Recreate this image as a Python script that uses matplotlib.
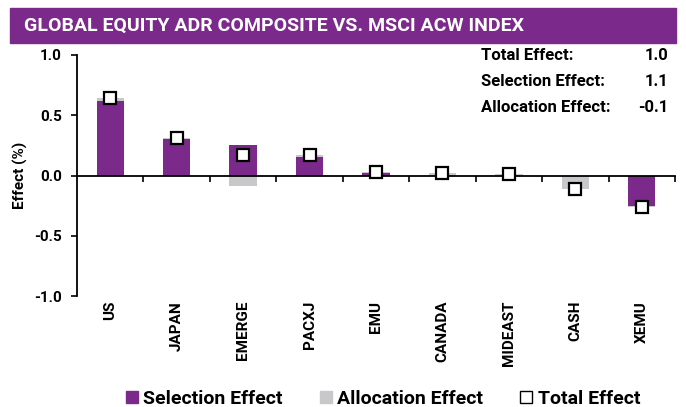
import numpy as np
import matplotlib
matplotlib.use("Agg")
import matplotlib.pyplot as plt
from matplotlib.patches import Rectangle
from matplotlib.lines import Line2D

plt.rcParams["font.family"] = ["Roboto", "DejaVu Sans"]

regions = ["US", "JAPAN", "EMERGE", "PACXJ", "EMU", "CANADA", "MIDEAST", "CASH", "XEMU"]
selection = [0.62, 0.30, 0.25, 0.15, 0.02, 0.00, 0.00, 0.00, -0.25]
allocation = [0.02, 0.01, -0.09, 0.02, 0.01, 0.02, 0.01, -0.11, -0.01]
total = [0.64, 0.31, 0.17, 0.17, 0.03, 0.02, 0.01, -0.115, -0.26]

stat_labels = ["Total Effect:", "Selection Effect:", "Allocation Effect:"]
stat_values = ["1.0", "1.1", "-0.1"]

purple = "#7B2A8C"
gray = "#C8C8CA"

fig = plt.figure(figsize=(6.86, 4.07), dpi=100)

# title band
fig.patches.append(Rectangle((10 / 686, 1 - 43 / 407), 666 / 686, 35 / 407,
                             transform=fig.transFigure, color=purple, zorder=0))
fig.text(24 / 686, 1 - 25.5 / 407, "GLOBAL EQUITY ADR COMPOSITE VS. MSCI ACW INDEX",
         color="white", fontsize=14, fontweight="bold", va="center", ha="left")

ax = fig.add_axes([77 / 686, 1 - 296 / 407, 598 / 686, 241 / 407])

x = np.arange(len(regions))
sel = np.array(selection)
alloc = np.array(allocation)
# positive parts stack upward, negative parts downward
alloc_bottom = np.where(np.sign(alloc) == np.sign(sel), sel, 0.0)

ax.bar(x, sel, width=0.41, color=purple, zorder=2)
ax.bar(x, alloc, bottom=alloc_bottom, width=0.41, color=gray, zorder=1)
ax.plot(x, total, linestyle="none", marker="s", markersize=8.5,
        markerfacecolor="white", markeredgecolor="black", markeredgewidth=1.6, zorder=3)

ax.set_xlim(-0.5, len(regions) - 0.5)
ax.set_ylim(-1.0, 1.0)
ax.set_yticks([-1.0, -0.5, 0.0, 0.5, 1.0])
ax.set_yticklabels(["-1.0", "-0.5", "0.0", "0.5", "1.0"], fontsize=11, fontweight="bold")
ax.set_ylabel("Effect (%)", fontsize=11, fontweight="bold", labelpad=4)

ax.spines["top"].set_visible(False)
ax.spines["right"].set_visible(False)
ax.spines["bottom"].set_position(("data", 0))
ax.spines["left"].set_linewidth(1.3)
ax.spines["bottom"].set_linewidth(1.3)

ax.set_xticks(x + 0.5)
ax.set_xticklabels([])
ax.tick_params(axis="x", direction="out", length=4, width=1.2)
ax.tick_params(axis="y", direction="out", length=4, width=1.2, pad=7)

for i, name in enumerate(regions):
    ax.text(i, -1.04, name, rotation=90, ha="center", va="top", fontsize=11,
            fontweight="bold")

for k, (lab, val) in enumerate(zip(stat_labels, stat_values)):
    yy = 1 - (55 + k * 26) / 407
    fig.text(481 / 686, yy, lab, fontsize=12, fontweight="bold", va="center", ha="left")
    fig.text(668 / 686, yy, val, fontsize=12, fontweight="bold", va="center", ha="right")

handles = [
    Line2D([], [], linestyle="none", marker="s", markersize=9, markerfacecolor=purple, markeredgecolor=purple),
    Line2D([], [], linestyle="none", marker="s", markersize=9, markerfacecolor=gray, markeredgecolor=gray),
    Line2D([], [], linestyle="none", marker="s", markersize=8, markerfacecolor="white", markeredgecolor="black"),
]
fig.legend(handles, ["Selection Effect", "Allocation Effect", "Total Effect"],
           loc="center", bbox_to_anchor=(381 / 686, 1 - 399 / 407), ncol=3,
           frameon=False, prop={"size": 14, "weight": "bold"},
           handletextpad=0.1, columnspacing=1.7, handlelength=1.0)

fig.savefig("out.png", dpi=100)
